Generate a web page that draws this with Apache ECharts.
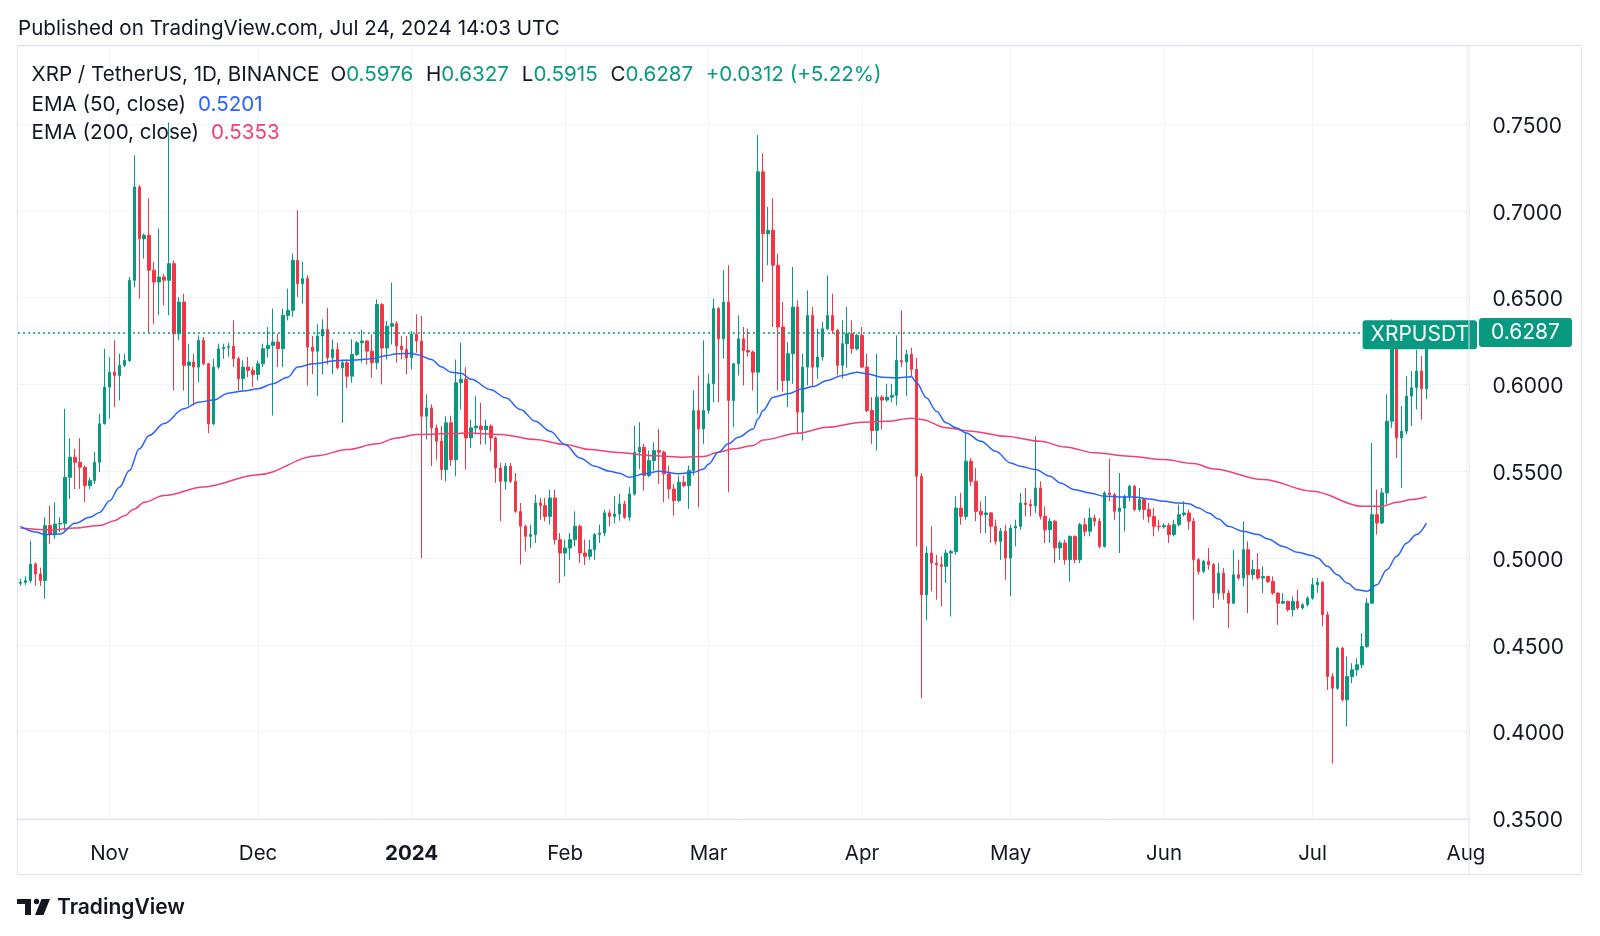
<!DOCTYPE html>
<html><head><meta charset="utf-8">
<script src="https://cdn.jsdelivr.net/npm/echarts@6/dist/echarts.min.js"></script>
<style>html,body{margin:0;padding:0;background:#fff;}#c{width:1600px;height:936px;}</style>
</head><body><div id="c"></div>
<script>
// ---- data (daily candles, XRP/USDT, 2023-10-14 .. 2024-07-24) ----
const firstDay = [2023, 10, 14];
const axisLastDay = [2024, 8, 1];
const opens = [
0.4855,0.4860,0.4870,0.4965,0.4908,0.4870,0.5187,0.5138,0.5196,0.5200,0.5465,0.5581,0.5552,0.5523,0.5417,0.5446,0.5552,0.5773,
0.5985,0.6071,0.6052,0.6110,0.6138,0.6600,0.7138,0.6840,0.6860,0.6658,0.6590,0.6619,0.6600,0.6696,0.6292,0.6475,0.6110,0.6129,0.6100,0.6254,0.6119,0.5773,0.6100,0.6206,0.6215,0.6220,0.6148,0.6033,0.6100,0.6081,
0.6058,0.6119,0.6206,0.6225,0.6244,0.6206,0.6398,0.6427,0.6715,0.6581,0.6610,0.6215,0.6192,0.6279,0.6317,0.6154,0.6202,0.6096,0.6125,0.6048,0.6173,0.6240,0.6250,0.6192,0.6125,0.6460,0.6210,0.6336,0.6350,0.6221,0.6202,
0.6154,0.6290,0.6250,0.5817,0.5865,0.5750,0.5673,0.5510,0.5779,0.5567,0.6010,0.6030,0.5692,0.5750,0.5760,0.5740,0.5760,0.5692,0.5519,0.5442,0.5529,0.5442,0.5269,0.5183,0.5125,0.5135,0.5317,0.5302,0.5240,0.5346,0.5106,
0.5029,0.5058,0.5106,0.5183,0.5029,0.5010,0.5048,0.5135,0.5144,0.5260,0.5240,0.5254,0.5312,0.5235,0.5369,0.5610,0.5638,0.5475,0.5562,0.5619,0.5610,0.5485,0.5398,0.5331,0.5437,0.5417,0.5504,0.5850,0.5744,
0.5850,0.6004,0.6437,0.6263,0.6475,0.5908,0.6119,0.6263,0.6196,0.6187,0.6071,0.7225,0.6869,0.6888,0.6687,0.6331,0.6023,0.6177,0.6446,0.5840,0.6100,0.6398,0.6100,0.6158,0.6321,0.6398,0.6312,0.6110,0.6235,0.6292,0.6206,
0.6283,0.6100,0.5850,0.5735,0.5927,0.5910,0.5927,0.5937,0.6138,0.6130,0.6173,0.6087,0.5471,0.4788,0.5029,0.4971,0.4962,0.4952,0.5029,0.5038,0.5288,0.5240,0.5558,0.5442,0.5269,0.5250,0.5260,0.5183,0.5096,0.5154,
0.5000,0.5173,0.5183,0.5317,0.5308,0.5300,0.5404,0.5240,0.5163,0.5212,0.5058,0.5087,0.4990,0.5125,0.4990,0.5192,0.5154,0.5231,0.5212,0.5067,0.5375,0.5365,0.5269,0.5288,0.5356,0.5413,0.5279,0.5337,0.5279,0.5240,0.5183,
0.5180,0.5188,0.5135,0.5192,0.5250,0.5260,0.5212,0.4990,0.4923,0.4981,0.4962,0.4798,0.4913,0.4798,0.4740,0.4904,0.4885,0.5048,0.4904,0.4933,0.4885,0.4894,0.4865,0.4798,0.4740,0.4750,0.4702,0.4750,0.4712,0.4731,
0.4769,0.4846,0.4860,0.4673,0.4317,0.4250,0.4481,0.4183,0.4317,0.4356,0.4385,0.4490,0.4740,0.5250,0.5202,0.5375,0.5788,0.6280,0.5692,0.5731,0.5933,0.5981,0.6077,0.5976
];
const highs = [
0.4880,0.4895,0.5100,0.4975,0.4945,0.5235,0.5302,0.5321,0.5235,0.5860,0.5690,0.5629,0.5690,0.5533,0.5465,0.5610,0.5831,0.6206,
0.6158,0.6254,0.6177,0.6177,0.6619,0.7321,0.7148,0.6870,0.7071,0.6706,0.6898,0.6638,0.7510,0.6715,0.6504,0.6523,0.6235,0.6177,0.6283,0.6273,0.6125,0.6148,0.6235,0.6235,0.6240,0.6369,0.6160,0.6138,0.6158,0.6100,
0.6138,0.6235,0.6331,0.6437,0.6292,0.6437,0.6552,0.6754,0.7004,0.6706,0.6629,0.6280,0.6346,0.6375,0.6440,0.6260,0.6240,0.6144,0.6144,0.6260,0.6250,0.6317,0.6255,0.6288,0.6490,0.6470,0.6365,0.6587,0.6365,0.6280,0.6280,
0.6308,0.6404,0.6394,0.5942,0.5885,0.5769,0.5760,0.5817,0.5820,0.6144,0.6240,0.6100,0.5798,0.5933,0.5894,0.5798,0.5770,0.5700,0.5548,0.5548,0.5548,0.5490,0.5317,0.5192,0.5192,0.5365,0.5346,0.5346,0.5394,0.5394,0.5144,
0.5106,0.5144,0.5269,0.5192,0.5106,0.5106,0.5144,0.5192,0.5279,0.5279,0.5356,0.5369,0.5330,0.5408,0.5763,0.5783,0.5658,0.5619,0.5667,0.5744,0.5619,0.5533,0.5427,0.5475,0.5475,0.5533,0.5965,0.6052,0.6254,
0.6062,0.6494,0.6447,0.6658,0.6687,0.6125,0.6398,0.6331,0.6321,0.6196,0.7437,0.7331,0.7023,0.7071,0.6754,0.6475,0.6244,0.6677,0.6485,0.6177,0.6542,0.6446,0.6321,0.6360,0.6629,0.6523,0.6320,0.6369,0.6446,0.6369,0.6292,
0.6331,0.6177,0.5927,0.6177,0.5937,0.6004,0.6004,0.6283,0.6427,0.6200,0.6212,0.6154,0.5490,0.5067,0.5183,0.5019,0.5010,0.5048,0.5048,0.5356,0.5375,0.5721,0.5577,0.5519,0.5327,0.5356,0.5265,0.5221,0.5173,0.5192,
0.5192,0.5221,0.5375,0.5404,0.5337,0.5702,0.5442,0.5298,0.5231,0.5220,0.5100,0.5106,0.5130,0.5130,0.5202,0.5231,0.5288,0.5250,0.5231,0.5385,0.5571,0.5375,0.5490,0.5365,0.5423,0.5420,0.5404,0.5346,0.5317,0.5288,0.5221,
0.5200,0.5202,0.5221,0.5308,0.5327,0.5279,0.5231,0.5000,0.4990,0.5058,0.4971,0.4971,0.4942,0.4817,0.5048,0.4990,0.5212,0.5096,0.4990,0.5029,0.4952,0.4898,0.4894,0.4802,0.4798,0.4755,0.4779,0.4817,0.4740,0.4779,
0.4885,0.4885,0.4865,0.4692,0.4337,0.4490,0.4490,0.4433,0.4394,0.4423,0.4567,0.4769,0.5663,0.5394,0.5404,0.5942,0.6375,0.6320,0.5875,0.6048,0.6077,0.6200,0.6163,0.6327
];
const lows = [
0.4840,0.4845,0.4855,0.4840,0.4840,0.4765,0.5081,0.5110,0.5150,0.5158,0.5340,0.5398,0.5398,0.5321,0.5398,0.5427,0.5494,0.5770,
0.5802,0.5869,0.5908,0.6100,0.6130,0.6560,0.6494,0.6725,0.6302,0.6350,0.6398,0.6456,0.6398,0.5965,0.6254,0.5965,0.5879,0.5879,0.6013,0.6110,0.5719,0.5765,0.6090,0.6148,0.6160,0.6100,0.5965,0.5965,0.6042,0.5985,
0.6023,0.6100,0.6158,0.5821,0.6100,0.6100,0.6369,0.6390,0.6504,0.6465,0.5994,0.6060,0.5933,0.6058,0.6115,0.6058,0.6086,0.5779,0.5981,0.6010,0.6163,0.6125,0.6115,0.6038,0.6086,0.6000,0.6144,0.6230,0.6125,0.6144,0.6058,
0.6086,0.6183,0.5000,0.5683,0.5529,0.5567,0.5452,0.5442,0.5530,0.5471,0.5856,0.5510,0.5635,0.5712,0.5654,0.5654,0.5615,0.5433,0.5212,0.5394,0.5433,0.5260,0.4962,0.5038,0.5058,0.5087,0.5221,0.5212,0.5192,0.5077,0.4856,
0.4894,0.4990,0.5067,0.4971,0.4960,0.4990,0.4990,0.5087,0.5125,0.5183,0.5200,0.5215,0.5225,0.5215,0.5360,0.5513,0.5388,0.5465,0.5504,0.5427,0.5321,0.5340,0.5244,0.5321,0.5408,0.5283,0.5475,0.5292,0.5658,
0.5831,0.5898,0.5898,0.6148,0.5379,0.5754,0.6052,0.5994,0.6160,0.5965,0.5831,0.6590,0.6687,0.6331,0.5965,0.5958,0.5869,0.6004,0.5715,0.5677,0.5994,0.5985,0.6033,0.6138,0.6312,0.6292,0.6052,0.6033,0.6096,0.6177,0.6196,
0.6095,0.5840,0.5658,0.5619,0.5740,0.5900,0.5898,0.5879,0.6100,0.5933,0.6048,0.5067,0.4192,0.4644,0.4808,0.4760,0.4721,0.4856,0.4663,0.5019,0.5192,0.5221,0.5413,0.5212,0.5144,0.5144,0.5087,0.5077,0.4990,0.4875,
0.4779,0.5067,0.5163,0.5240,0.5240,0.5260,0.5221,0.5087,0.5087,0.4971,0.4990,0.4962,0.4865,0.4971,0.4971,0.5125,0.5125,0.5183,0.5058,0.5060,0.5327,0.5221,0.5029,0.5154,0.5327,0.5269,0.5269,0.5221,0.5202,0.5125,0.5154,
0.5170,0.5087,0.5125,0.5183,0.5240,0.5163,0.4644,0.4904,0.4913,0.4933,0.4712,0.4760,0.4760,0.4596,0.4735,0.4875,0.4837,0.4683,0.4875,0.4875,0.4798,0.4856,0.4788,0.4615,0.4735,0.4692,0.4663,0.4702,0.4702,0.4721,
0.4760,0.4800,0.4606,0.4240,0.3817,0.4240,0.4173,0.4029,0.4279,0.4321,0.4365,0.4481,0.4735,0.5135,0.5195,0.5308,0.5750,0.5577,0.5404,0.5712,0.5760,0.5856,0.5798,0.5915
];
const closes = [
0.4860,0.4870,0.4965,0.4908,0.4870,0.5187,0.5138,0.5196,0.5200,0.5465,0.5581,0.5552,0.5523,0.5417,0.5446,0.5552,0.5773,0.5985,
0.6071,0.6052,0.6110,0.6138,0.6600,0.7138,0.6840,0.6860,0.6658,0.6590,0.6619,0.6600,0.6696,0.6292,0.6475,0.6110,0.6129,0.6100,0.6254,0.6119,0.5773,0.6100,0.6206,0.6215,0.6220,0.6148,0.6033,0.6100,0.6081,0.6058,
0.6119,0.6206,0.6225,0.6244,0.6206,0.6398,0.6427,0.6715,0.6581,0.6610,0.6215,0.6192,0.6279,0.6317,0.6154,0.6202,0.6096,0.6125,0.6048,0.6173,0.6240,0.6250,0.6192,0.6125,0.6460,0.6210,0.6336,0.6350,0.6221,0.6202,0.6154,
0.6290,0.6250,0.5817,0.5865,0.5750,0.5673,0.5510,0.5779,0.5567,0.6010,0.6030,0.5692,0.5750,0.5760,0.5740,0.5760,0.5692,0.5519,0.5442,0.5529,0.5442,0.5269,0.5183,0.5125,0.5135,0.5317,0.5302,0.5240,0.5346,0.5106,0.5029,
0.5058,0.5106,0.5183,0.5029,0.5010,0.5048,0.5135,0.5144,0.5260,0.5240,0.5254,0.5312,0.5235,0.5369,0.5610,0.5638,0.5475,0.5562,0.5619,0.5610,0.5485,0.5398,0.5331,0.5437,0.5417,0.5504,0.5850,0.5744,0.5850,
0.6004,0.6437,0.6263,0.6475,0.5908,0.6119,0.6263,0.6196,0.6187,0.6071,0.7225,0.6869,0.6888,0.6687,0.6331,0.6023,0.6177,0.6446,0.5840,0.6100,0.6398,0.6100,0.6158,0.6321,0.6398,0.6312,0.6110,0.6235,0.6292,0.6206,0.6283,
0.6100,0.5850,0.5735,0.5927,0.5910,0.5927,0.5937,0.6138,0.6130,0.6173,0.6087,0.5471,0.4788,0.5029,0.4971,0.4962,0.4952,0.5029,0.5038,0.5288,0.5240,0.5558,0.5442,0.5269,0.5250,0.5260,0.5183,0.5096,0.5154,0.5000,
0.5173,0.5183,0.5317,0.5308,0.5300,0.5404,0.5240,0.5163,0.5212,0.5058,0.5087,0.4990,0.5125,0.4990,0.5192,0.5154,0.5231,0.5212,0.5067,0.5375,0.5365,0.5269,0.5288,0.5356,0.5413,0.5279,0.5337,0.5279,0.5240,0.5183,0.5180,
0.5188,0.5135,0.5192,0.5250,0.5260,0.5212,0.4990,0.4923,0.4981,0.4962,0.4798,0.4913,0.4798,0.4740,0.4904,0.4885,0.5048,0.4904,0.4933,0.4885,0.4894,0.4865,0.4798,0.4740,0.4750,0.4702,0.4750,0.4712,0.4731,0.4769,
0.4846,0.4860,0.4673,0.4317,0.4250,0.4481,0.4183,0.4317,0.4356,0.4385,0.4490,0.4740,0.5250,0.5202,0.5375,0.5788,0.6280,0.5692,0.5731,0.5933,0.5981,0.6077,0.5976,0.6287
];
// EMA readings (date, value)
const ema50 = [
['2023-10-14',0.5182],['2023-10-17',0.5150],['2023-10-19',0.5135],['2023-10-22',0.5138],['2023-10-25',0.5200],['2023-10-28',0.5235],['2023-10-30',0.5263],
['2023-11-01',0.5330],['2023-11-03',0.5408],['2023-11-05',0.5504],['2023-11-07',0.5629],['2023-11-09',0.5706],['2023-11-12',0.5775],['2023-11-16',0.5860],['2023-11-19',0.5898],['2023-11-22',0.5910],['2023-11-25',0.5950],['2023-11-28',0.5962],
['2023-12-01',0.5975],['2023-12-04',0.6004],['2023-12-07',0.6042],['2023-12-09',0.6100],['2023-12-12',0.6119],['2023-12-17',0.6138],['2023-12-20',0.6140],['2023-12-24',0.6148],['2023-12-27',0.6167],['2023-12-29',0.6177],
['2024-01-01',0.6179],['2024-01-02',0.6173],['2024-01-05',0.6144],['2024-01-07',0.6102],['2024-01-09',0.6071],['2024-01-11',0.6065],['2024-01-13',0.6030],['2024-01-17',0.5970],['2024-01-20',0.5923],['2024-01-23',0.5856],['2024-01-26',0.5788],['2024-01-29',0.5730],
['2024-02-01',0.5654],['2024-02-04',0.5577],['2024-02-07',0.5529],['2024-02-10',0.5500],['2024-02-12',0.5488],['2024-02-14',0.5465],['2024-02-17',0.5485],['2024-02-20',0.5500],['2024-02-24',0.5485],['2024-02-27',0.5494],['2024-02-29',0.5513],
['2024-03-01',0.5542],['2024-03-03',0.5610],['2024-03-05',0.5658],['2024-03-07',0.5696],['2024-03-10',0.5744],['2024-03-11',0.5802],['2024-03-12',0.5850],['2024-03-14',0.5927],['2024-03-17',0.5946],['2024-03-20',0.5975],['2024-03-22',0.5988],['2024-03-25',0.6023],['2024-03-28',0.6052],['2024-03-31',0.6071],
['2024-04-02',0.6062],['2024-04-05',0.6042],['2024-04-08',0.6038],['2024-04-11',0.6044],['2024-04-12',0.6010],['2024-04-14',0.5923],['2024-04-16',0.5846],['2024-04-18',0.5779],['2024-04-20',0.5750],['2024-04-22',0.5721],['2024-04-25',0.5673],['2024-04-28',0.5615],
['2024-05-01',0.5548],['2024-05-03',0.5529],['2024-05-06',0.5510],['2024-05-09',0.5471],['2024-05-11',0.5433],['2024-05-14',0.5394],['2024-05-17',0.5375],['2024-05-20',0.5356],['2024-05-23',0.5352],['2024-05-26',0.5352],['2024-05-29',0.5340],
['2024-06-01',0.5327],['2024-06-04',0.5317],['2024-06-06',0.5313],['2024-06-08',0.5288],['2024-06-10',0.5260],['2024-06-12',0.5225],['2024-06-14',0.5183],['2024-06-17',0.5154],['2024-06-20',0.5135],['2024-06-22',0.5110],['2024-06-25',0.5067],['2024-06-28',0.5033],
['2024-07-01',0.5013],['2024-07-02',0.5000],['2024-07-04',0.4952],['2024-07-06',0.4904],['2024-07-08',0.4856],['2024-07-10',0.4817],['2024-07-12',0.4808],['2024-07-14',0.4846],['2024-07-16',0.4933],['2024-07-18',0.5010],['2024-07-20',0.5087],['2024-07-22',0.5135],['2024-07-24',0.5201]
];
const ema200 = [
['2023-10-14',0.5173],['2023-10-20',0.5162],['2023-10-25',0.5173],['2023-10-30',0.5187],['2023-11-02',0.5215],['2023-11-04',0.5244],['2023-11-06',0.5283],['2023-11-08',0.5321],['2023-11-12',0.5360],['2023-11-20',0.5410],
['2023-12-01',0.5480],['2023-12-13',0.5590],['2023-12-19',0.5625],['2023-12-25',0.5658],['2023-12-29',0.5692],['2024-01-02',0.5712],['2024-01-10',0.5717],['2024-01-12',0.5721],['2024-01-19',0.5712],['2024-01-26',0.5683],
['2024-02-01',0.5654],['2024-02-06',0.5625],['2024-02-11',0.5610],['2024-02-19',0.5590],['2024-02-25',0.5581],['2024-02-29',0.5585],['2024-03-03',0.5610],['2024-03-06',0.5629],['2024-03-10',0.5648],['2024-03-12',0.5680],
['2024-03-19',0.5719],['2024-03-25',0.5754],['2024-04-01',0.5783],['2024-04-06',0.5788],['2024-04-11',0.5806],['2024-04-13',0.5798],['2024-04-18',0.5750],['2024-04-23',0.5731],['2024-04-30',0.5702],['2024-05-07',0.5673],
['2024-05-12',0.5640],['2024-05-18',0.5606],['2024-05-25',0.5587],['2024-06-01',0.5567],['2024-06-07',0.5544],['2024-06-11',0.5513],['2024-06-21',0.5452],['2024-07-01',0.5385],['2024-07-11',0.5298],['2024-07-15',0.5298],
['2024-07-18',0.5321],['2024-07-21',0.5337],['2024-07-24',0.5353]
];
const monthNames = ['Jan','Feb','Mar','Apr','May','Jun','Jul','Aug','Sep','Oct','Nov','Dec'];
const priceMin = 0.35, priceMax = 0.795, priceStep = 0.05;
const headerText = 'Published on TradingView.com, Jul 24, 2024 14:03 UTC';
const changeText = '+0.0312 (+5.22%)';

// ---- build ----
const dates = [];
for (let t = Date.UTC(firstDay[0], firstDay[1]-1, firstDay[2]); t <= Date.UTC(axisLastDay[0], axisLastDay[1]-1, axisLastDay[2]); t += 86400000) {
  dates.push(new Date(t).toISOString().slice(0, 10));
}
const candles = dates.map((d, i) => i < closes.length ? [opens[i], closes[i], lows[i], highs[i]] : '-');
const n = closes.length - 1;
const lastO = opens[n], lastH = highs[n], lastL = lows[n], lastC = closes[n];
const ema50Last = ema50[ema50.length-1][1], ema200Last = ema200[ema200.length-1][1];

const FONT = 'Inter, "Noto Sans", sans-serif';
const TEXT = '#131722', GRIDC = '#f0f3fa', BORDER = '#e0e3eb';
const UP = '#089981', DOWN = '#f23645', BLUE = '#2962ff', PINK = '#ef4173';
const HS = 20.6; // header font size
const isMonthStart = (i, v) => typeof v === 'string' && v.slice(8) === '01';
const boxLabel = (txt, bg, extra) => Object.assign({
  show: true, position: 'end', distance: 10.5, formatter: txt, color: '#fff', backgroundColor: bg,
  padding: [6, 12, 3, 12], borderRadius: 3, fontSize: 21, lineHeight: 20, fontFamily: FONT
}, extra || {});
const rt = (color, padLeft) => ({ fontSize: HS, color: color, fontFamily: FONT, fontWeight: 'normal', lineHeight: 22, padding: [0, 0, 0, padLeft || 0] });

const chart = echarts.init(document.getElementById('c'));
chart.setOption({
  animation: false,
  backgroundColor: '#ffffff',
  textStyle: { fontFamily: FONT },
  title: [
    { text: headerText, left: 18, top: 17.5, padding: 0,
      textStyle: { fontSize: HS, fontWeight: 'normal', color: TEXT, fontFamily: FONT, lineHeight: 22 } },
    { text: '{t|XRP / TetherUS, 1D, BINANCE}{k0|O}{v|' + lastO.toFixed(4) + '}{k|H}{v|' + lastH.toFixed(4) + '}{k|L}{v|' + lastL.toFixed(4) + '}{k|C}{v|' + lastC.toFixed(4) + '}{c|' + changeText + '}',
      left: 31.6, top: 63.5, padding: 0,
      textStyle: { fontWeight: 'normal', rich: { t: rt(TEXT), k0: rt(TEXT, 11), k: rt(TEXT, 12.8), v: rt(UP), c: rt(UP, 12.6) } } },
    { text: '{t|EMA (50, close)}{v|' + ema50Last.toFixed(4) + '}', left: 31.6, top: 93.5, padding: 0,
      textStyle: { fontWeight: 'normal', rich: { t: rt(TEXT), v: rt(BLUE, 12) } } },
    { text: '{t|EMA (200, close)}{v|' + ema200Last.toFixed(4) + '}', left: 31.6, top: 122, padding: 0,
      textStyle: { fontWeight: 'normal', rich: { t: rt(TEXT), v: rt(PINK, 12) } } },
    { text: 'TradingView', left: 57, top: 897, padding: 0,
      textStyle: { fontSize: 21, fontWeight: 600, color: TEXT, fontFamily: FONT, lineHeight: 22 } }
  ],
  grid: { left: 18, right: 131.5, top: 46, bottom: 117.6 },
  xAxis: {
    type: 'category', data: dates, boundaryGap: true,
    axisLine: { show: false }, axisTick: { show: false },
    axisLabel: {
      interval: isMonthStart, margin: 25, color: TEXT, fontSize: 20.5, fontFamily: FONT,
      formatter: v => { const m = +v.slice(5, 7); return m === 1 ? '{b|' + v.slice(0, 4) + '}' : monthNames[m-1]; },
      rich: { b: { fontWeight: 'bold', fontSize: 20.5, color: TEXT, fontFamily: FONT } }
    },
    splitLine: { show: true, interval: isMonthStart, alignWithLabel: true, lineStyle: { color: GRIDC, width: 1 } }
  },
  yAxis: {
    type: 'value', position: 'right', min: priceMin, max: priceMax, interval: priceStep,
    axisLine: { show: false }, axisTick: { show: false },
    axisLabel: { formatter: v => '{p|' + v.toFixed(4) + '}', margin: 24, showMaxLabel: false,
      rich: { p: { color: TEXT, fontSize: 21, fontFamily: FONT, padding: [5, 0, 0, 0] } } },
    splitLine: { lineStyle: { color: GRIDC, width: 1 } }
  },
  series: [
    {
      type: 'candlestick', data: candles, barWidth: 3,
      itemStyle: { color: UP, color0: DOWN, borderColor: UP, borderColor0: DOWN, borderWidth: 1 },
      markLine: {
        silent: true, symbol: ['none', 'none'], animation: false,
        lineStyle: { color: UP, type: [2, 3], width: 1.5 },
        label: boxLabel(lastC.toFixed(4), UP),
        data: [{ yAxis: lastC }]
      },
      markPoint: {
        silent: true, animation: false, symbol: 'circle', symbolSize: 1, itemStyle: { color: 'rgba(0,0,0,0)' },
        label: { show: true, position: 'inside', align: 'right', offset: [11, 0], formatter: 'XRPUSDT', color: '#fff',
          backgroundColor: UP, padding: [6, 8, 3, 8], borderRadius: 3, fontSize: 21, lineHeight: 20, fontFamily: FONT },
        data: [{ coord: [dates[dates.length-1], lastC] }]
      }
    },
    {
      type: 'line', data: ema200, showSymbol: false, smooth: 0.35, smoothMonotone: 'x',
      lineStyle: { color: PINK, width: 1.5 },
      markLine: { silent: true, symbol: ['none', 'none'], animation: false, lineStyle: { opacity: 0 },
        label: boxLabel(ema200Last.toFixed(4), PINK), data: [{ yAxis: ema200Last }] }
    },
    {
      type: 'line', data: ema50, showSymbol: false, smooth: 0.35, smoothMonotone: 'x',
      lineStyle: { color: BLUE, width: 1.5 },
      markLine: { silent: true, symbol: ['none', 'none'], animation: false, lineStyle: { opacity: 0 },
        label: boxLabel(ema50Last.toFixed(4), BLUE, { offset: [0, 3] }), data: [{ yAxis: ema50Last }] }
    }
  ],
  graphic: [
    { type: 'rect', shape: { x: 17.5, y: 45.5, width: 1564, height: 829 }, style: { fill: 'none', stroke: BORDER, lineWidth: 1 }, z: 100 },
    { type: 'line', shape: { x1: 1469, y1: 46, x2: 1469, y2: 874.5 }, style: { stroke: BORDER, lineWidth: 1 }, z: 100 },
    { type: 'line', shape: { x1: 17.5, y1: 819.5, x2: 1469, y2: 819.5 }, style: { stroke: BORDER, lineWidth: 1 }, z: 100 },
    // TradingView logo
    { type: 'group', z: 100, children: [
      { type: 'rect', shape: { x: 17, y: 899, width: 14, height: 5 }, style: { fill: TEXT } },
      { type: 'rect', shape: { x: 25, y: 899, width: 6, height: 16 }, style: { fill: TEXT } },
      { type: 'circle', shape: { cx: 36.5, cy: 901.5, r: 2.7 }, style: { fill: TEXT } },
      { type: 'polygon', shape: { points: [[41.5, 899], [50, 899], [43.5, 915], [35, 915]] }, style: { fill: TEXT } }
    ] }
  ]
});
</script>
</body></html>
